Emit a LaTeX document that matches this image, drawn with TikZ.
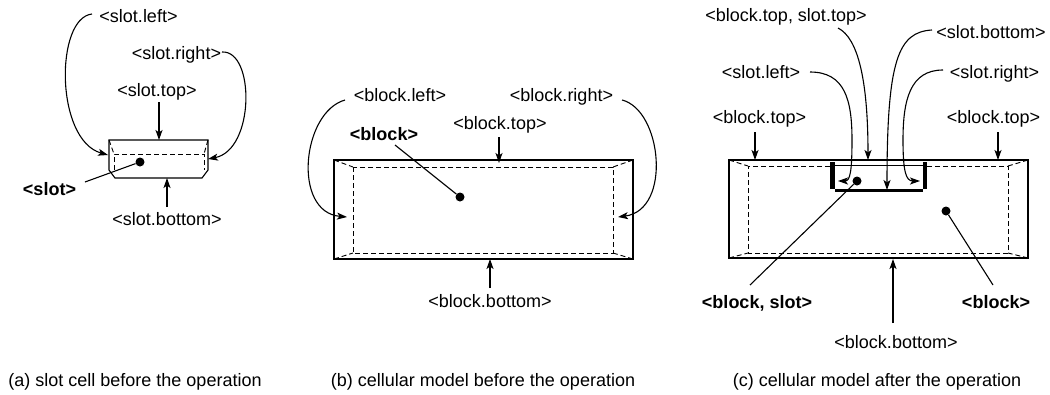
\documentclass[tikz,border=0pt]{standalone}
\usepackage{fontspec}
\setmainfont{Liberation Sans}
\usetikzlibrary{arrows.meta}
\begin{document}
\begin{tikzpicture}[x=1pt,y=-1pt,
  lbl/.style={font=\fontsize{18}{20}\selectfont, inner sep=0pt, anchor=base},
  blbl/.style={font=\fontsize{18}{20}\selectfont\bfseries, inner sep=0pt, anchor=base},
  arr/.style={-{Stealth[length=10pt,width=7pt,inset=2.5pt]}, line width=1.1pt},
  leader/.style={line width=1.1pt},
  outerline/.style={line width=1.1pt},
  innerline/.style={dash pattern=on 5pt off 3pt, line width=0.9pt},
  dotnode/.style={circle, fill=black, inner sep=0pt, minimum size=9pt},
  thickbar/.style={line width=4.5pt},
  ]
\useasboundingbox (0,0) rectangle (1050,394);

% ---------------- (a) slot cell ----------------
\draw[outerline] (109,140) -- (208,140) -- (208,170) -- (202,178) -- (115,178) -- (109,170) -- cycle;
\draw[innerline] (114,170) -- (114,154) -- (204,154) -- (204,170);
\draw[innerline] (109,140) -- (114,154);
\draw[innerline] (208,140) -- (204,154);

\node[lbl] (aL) at (138.5,22) {<slot.left>};
\node[lbl] (aR) at (176.5,59) {<slot.right>};
\node[lbl] (aT) at (157,96) {<slot.top>};
\node[blbl] (aS) at (49.5,195) {<slot>};
\node[lbl] (aB) at (167,225) {<slot.bottom>};
\node[lbl] (capA) at (135,386) {(a) slot cell before the operation};
\node[dotnode] (aD) at (140,162) {};

\coordinate (aLs) at (92,14);   \coordinate (aLe) at (108,155);
\coordinate (aRs) at (222,52);  \coordinate (aRe) at (208,159);
\coordinate (aTs) at (159,102); \coordinate (aTe) at (159,140);
\coordinate (aBs) at (167,207); \coordinate (aBe) at (167,178);
\coordinate (aSs) at (85,182);

\draw[arr] (aLs) .. controls (55,18) and (55,140) .. (aLe);
\draw[arr] (aRs) .. controls (255,50) and (255,150) .. (aRe);
\draw[arr] (aTs) -- (aTe);
\draw[arr] (aBs) -- (aBe);
\draw[leader] (aSs) -- (aD);

% ---------------- (b) cellular model before ----------------
\draw[outerline] (334,160) rectangle (633,259);
\draw[innerline] (353,167) rectangle (613,253);
\draw[innerline] (334,160) -- (353,167);
\draw[innerline] (633,160) -- (613,167);
\draw[innerline] (334,259) -- (353,253);
\draw[innerline] (633,259) -- (613,253);

\node[lbl] (bL) at (400,101.5) {<block.left>};
\node[lbl] (bR) at (561.5,101.5) {<block.right>};
\node[lbl] (bT) at (500,129.5) {<block.top>};
\node[blbl] (bS) at (384,140) {<block>};
\node[lbl] (bB) at (490,307) {<block.bottom>};
\node[lbl] (capB) at (483,386) {(b) cellular model before the operation};
\node[dotnode] (bD) at (460,197) {};

\coordinate (bLs) at (345,100); \coordinate (bLe) at (347,217);
\coordinate (bRs) at (622,100); \coordinate (bRe) at (618,217);
\coordinate (bTs) at (499,137); \coordinate (bTe) at (499,163);
\coordinate (bBs) at (490,288); \coordinate (bBe) at (490,259);
\coordinate (bSs) at (395,145);

\draw[arr] (bLs) .. controls (302,112) and (292,212) .. (bLe);
\draw[arr] (bRs) .. controls (662,110) and (672,210) .. (bRe);
\draw[arr] (bTs) -- (bTe);
\draw[arr] (bBs) -- (bBe);
\draw[leader] (bSs) -- (bD);

% ---------------- (c) cellular model after ----------------
\draw[outerline] (729,160) rectangle (1028,258);
\draw[innerline] (830,166) -- (748,166) -- (748,253) -- (1008,253) -- (1008,166) -- (927,166);
\draw[innerline] (729,160) -- (748,166);
\draw[innerline] (1028,160) -- (1008,166);
\draw[innerline] (729,258) -- (748,253);
\draw[innerline] (1028,258) -- (1008,253);
% slot inside block
\draw[line width=0.8pt] (835,165) -- (923,165);
\draw[thickbar] (832.5,162) -- (832.5,189);
\draw[thickbar] (925,162) -- (925,189);
\draw[line width=3pt] (835,190) -- (923,190);

\node[lbl] (cTT) at (786,21.5) {<block.top, slot.top>};
\node[lbl] (cSB) at (991,38) {<slot.bottom>};
\node[lbl] (cSL) at (761,78) {<slot.left>};
\node[lbl] (cSR) at (994.5,78) {<slot.right>};
\node[lbl] (cBT1) at (759.5,123) {<block.top>};
\node[lbl] (cBT2) at (993.5,123) {<block.top>};
\node[blbl] (cBS) at (757,308) {<block, slot>};
\node[blbl] (cBk) at (996,308) {<block>};
\node[lbl] (cBB) at (896,348) {<block.bottom>};
\node[lbl] (capC) at (877,386) {(c) cellular model after the operation};
\node[dotnode] (cD1) at (857,181) {};
\node[dotnode] (cD2) at (946,211) {};

\coordinate (cTTs) at (838,28);  \coordinate (cTTe) at (868,160);
\coordinate (cSBs) at (932,30);  \coordinate (cSBe) at (887,190);
\coordinate (cSLs) at (810,72);  \coordinate (cSLe) at (838,181);
\coordinate (cSRs) at (943,70);  \coordinate (cSRe) at (920,181);
\coordinate (cT1s) at (755,132); \coordinate (cT1e) at (755,160);
\coordinate (cT2s) at (998,132); \coordinate (cT2e) at (998,160);
\coordinate (cBBs) at (893,323); \coordinate (cBBe) at (893,259);
\coordinate (cBSs) at (750,285);
\coordinate (cBks) at (993,285);

\draw[arr] (cTTs) .. controls (858,38) and (868,80) .. (cTTe);
\draw[arr] (cSBs) .. controls (898,32) and (887,60) .. (cSBe);
\draw[arr] (cSLs) .. controls (845,72) and (852,100) .. (852,140) .. controls (852,172) and (850,181) .. (cSLe);
\draw[arr] (cSRs) .. controls (910,70) and (903,100) .. (903,140) .. controls (903,172) and (906,181) .. (cSRe);
\draw[arr] (cT1s) -- (cT1e);
\draw[arr] (cT2s) -- (cT2e);
\draw[arr] (cBBs) -- (cBBe);
\draw[leader] (cBSs) -- (cD1);
\draw[leader] (cBks) -- (cD2);
\end{tikzpicture}
\end{document}
